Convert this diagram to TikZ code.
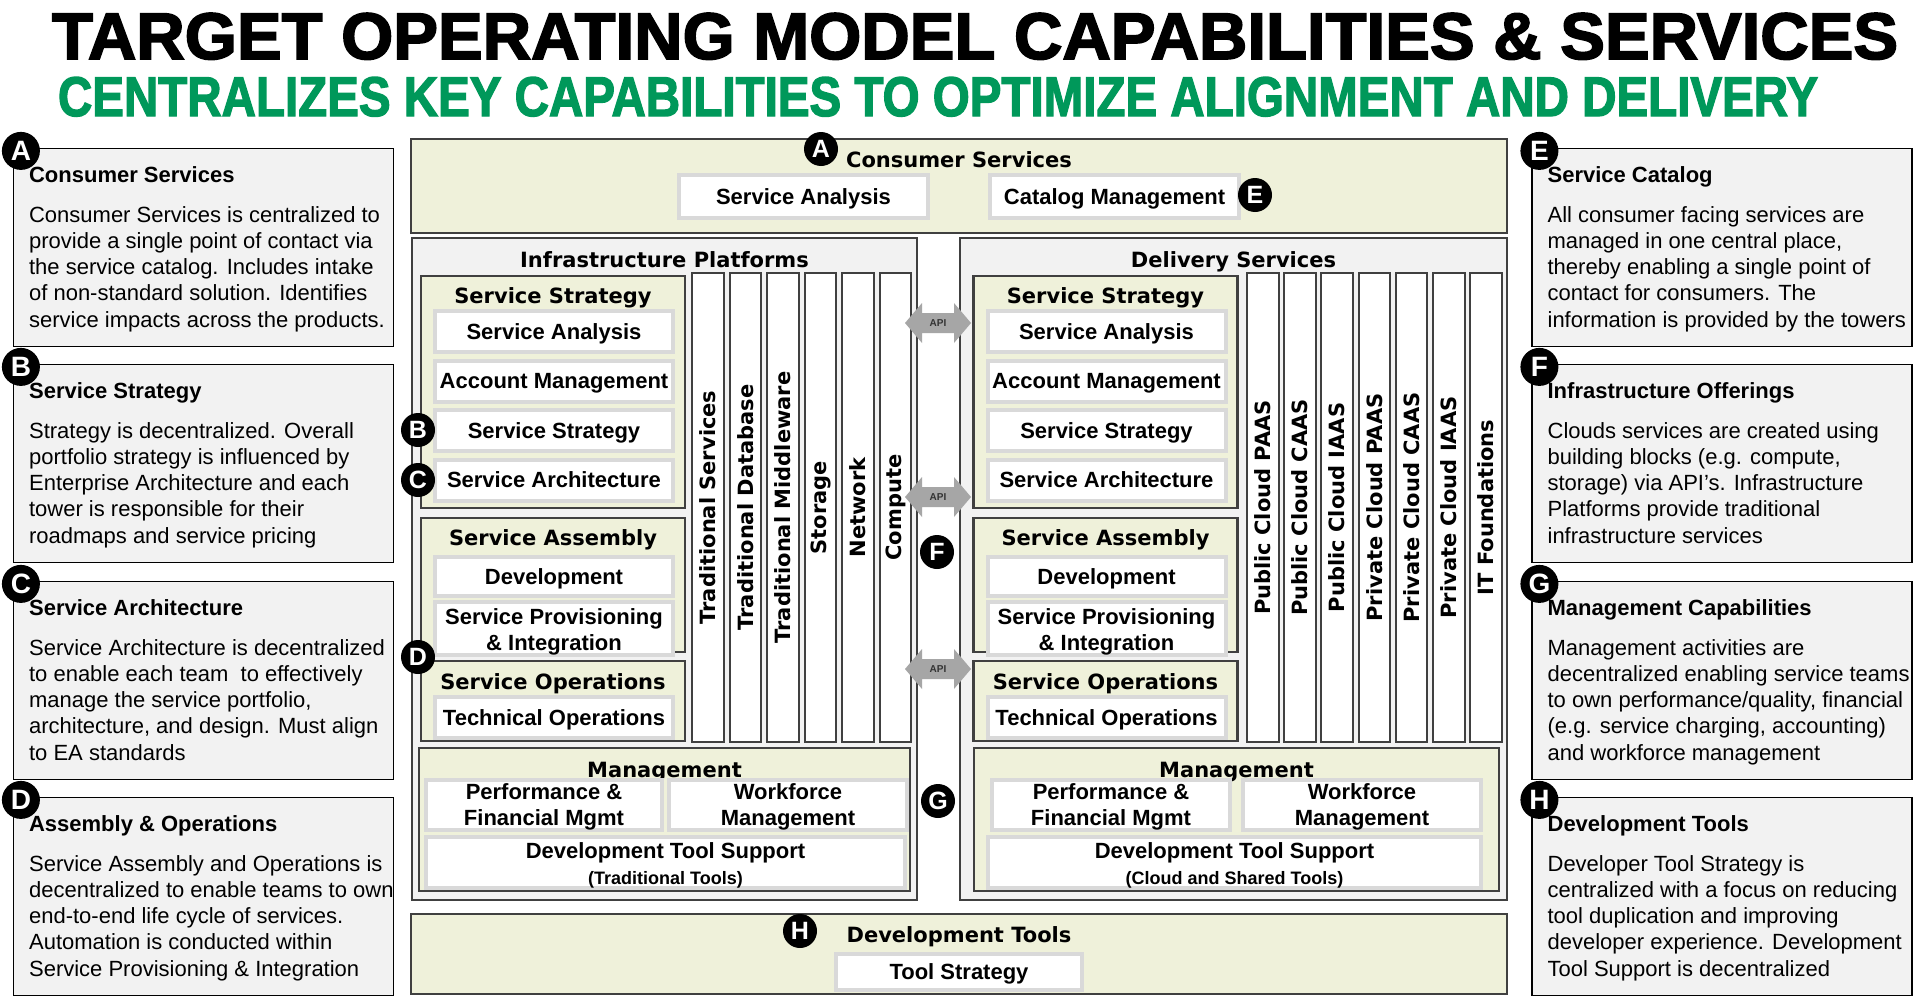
\documentclass[tikz,border=0pt]{standalone}
\usepackage{fontspec}
\usepackage{graphicx}
\setmainfont{Liberation Sans}
\newfontfamily\dejavu{DejaVu Sans}
\newfontfamily\heavyfont{Liberation Sans Bold}[FakeBold=2.5]
\definecolor{cream}{HTML}{EFF1DA}
\definecolor{panelgray}{HTML}{F2F2F2}
\definecolor{edge}{HTML}{404040}
\definecolor{itemedge}{HTML}{D9D9D9}
\definecolor{apigray}{HTML}{A6A6A6}
\definecolor{apitext}{HTML}{333333}
\definecolor{tomgreen}{HTML}{00985A}
\newcommand\hdfont{\fontsize{21}{25}\dejavu\bfseries}
\newcommand\itfont{\fontsize{22}{26}\selectfont\bfseries}
\newcommand\nhfont{\fontsize{22}{26}\selectfont\bfseries}
\newcommand\ntfont{\fontsize{22}{26.3}\selectfont}
\newcommand\bdfont{\fontsize{25}{25}\selectfont\bfseries}
\newcommand\apifont{\fontsize{10}{12}\selectfont\bfseries}
\newcommand\toppad[1]{\rule{0pt}{#1}}

\begin{document}
\begin{tikzpicture}[x=1pt,y=-1pt,
  panel/.style={draw=edge,line width=2.5pt,fill=panelgray,inner sep=0pt},
  zone/.style={panel,fill=cream},
  item/.style={draw=itemedge,line width=4pt,fill=white,inner sep=0pt,align=center,font=\itfont},
  oneline/.style={item,text height=15.5pt,text depth=0pt},
  tower/.style={draw=edge,line width=2pt,fill=white,rotate=90,minimum width=469pt,minimum height=31.5pt,inner sep=0pt,font=\hdfont},
  hd/.style={anchor=base,inner sep=0pt,font=\hdfont},
  badge/.style={circle,fill=black,text=white,minimum size=34pt,inner sep=0pt,font=\bdfont},
  sidebadge/.style={badge,minimum size=38pt,font=\fontsize{28}{28}\selectfont\bfseries},
  note/.style={draw=black,line width=1.2pt,fill=panelgray,minimum width=380pt,minimum height=198pt,inner sep=0pt},
  notehd/.style={anchor=base west,inner sep=0pt,font=\nhfont},
  notetx/.style={anchor=north west,inner sep=0pt,align=left,font=\ntfont},
  api/.style={fill=apigray}]
\useasboundingbox[fill=white] (0,0) rectangle (1914,1001);

% titles
\node[anchor=base,inner sep=0pt] (title) at (975,59) {\resizebox{1846pt}{46pt}{\heavyfont TARGET OPERATING MODEL CAPABILITIES \& SERVICES}};
\node[anchor=base,inner sep=0pt,text=tomgreen] (subtitle) at (938,116) {\resizebox{1760pt}{39pt}{\heavyfont CENTRALIZES KEY CAPABILITIES TO OPTIMIZE ALIGNMENT AND DELIVERY}};

% consumer services
\node[zone,minimum width=1096pt,minimum height=94pt] (cons) at (959,186) {};
\node[hd] (consHd) at (959,167) {Consumer Services};
\node[oneline,minimum width=249pt,minimum height=43pt] (consSA) at (803.5,196.5) {Service Analysis};
\node[oneline,minimum width=249pt,minimum height=43pt] (consCM) at (1114.5,196.5) {Catalog Management};

% the two towers
\node[panel,minimum width=505pt,minimum height=662pt] (infra) at (664.5,569) {};
\node[hd] (infraHd) at (664.5,267) {Infrastructure Platforms};
\node[panel,minimum width=547pt,minimum height=662pt] (deliv) at (1233.5,569) {};
\node[hd] (delivHd) at (1233.5,267) {Delivery Services};

% service strategy / assembly / operations
\foreach \side/\zx in {L/553,R/1105.5} {
  \node[zone,minimum width=264pt,minimum height=232pt] (strat\side) at (\zx,392) {};
  \node[hd] at (\zx,303) {Service Strategy};
  \foreach \txt [count=\i from 0] in {Service Analysis,Account Management,Service Strategy,Service Architecture}
    \node[oneline,minimum width=238pt,minimum height=41pt] (strat\side\i) at (\zx+1,331.5+49.5*\i) {\txt};
  \node[zone,minimum width=264pt,minimum height=134pt] (asm\side) at (\zx,585) {};
  \node[hd] at (\zx,545) {Service Assembly};
  \node[oneline,minimum width=238pt,minimum height=39pt] (asmDev\side) at (\zx+1,576.5) {Development};
  \node[item,minimum width=238pt,minimum height=41pt] (asmProv\side) at (\zx+1,628.5) {\toppad{22pt}Service Provisioning\\\& Integration};
  \node[zone,minimum width=264pt,minimum height=80pt] (ops\side) at (\zx,701) {};
  \node[hd] at (\zx,689) {Service Operations};
  \node[oneline,minimum width=238pt,minimum height=41pt] (opsTech\side) at (\zx+1,717.5) {Technical Operations};
}

% vertical offerings
\foreach \txt [count=\i from 0] in {Traditional Services,Traditional Database,Traditional Middleware,Storage,Network,Compute}
  \node[tower] (twrL\i) at (708+37.5*\i,507.5) {\txt};
\foreach \txt [count=\i from 0] in {Public Cloud PAAS,Public Cloud CAAS,Public Cloud IAAS,Private Cloud PAAS,Private Cloud CAAS,Private Cloud IAAS,IT Foundations}
  \node[tower] (twrR\i) at (1262.75+37.2*\i,507.5) {\txt};

% management
\node[zone,minimum width=491pt,minimum height=143pt] (mgmtL) at (664.5,819.5) {};
\node[hd] at (664.5,777) {Management};
\node[item,minimum width=236pt,minimum height=40pt] (perfL) at (544,805) {\toppad{20pt}Performance \&\\Financial Mgmt};
\node[item,minimum width=238pt,minimum height=40pt] (workL) at (788,805) {\toppad{20pt}Workforce\\Management};
\node[item,minimum width=479pt,minimum height=47pt] (toolL) at (665.5,862.5) {\toppad{22pt}Development Tool Support\\{\fontsize{18}{20}\selectfont(Traditional Tools)}};
\node[zone,minimum width=525pt,minimum height=143pt] (mgmtR) at (1236.5,819.5) {};
\node[hd] at (1236.5,777) {Management};
\node[item,minimum width=238pt,minimum height=40pt] (perfR) at (1111,805) {\toppad{20pt}Performance \&\\Financial Mgmt};
\node[item,minimum width=238pt,minimum height=40pt] (workR) at (1362,805) {\toppad{20pt}Workforce\\Management};
\node[item,minimum width=493pt,minimum height=47pt] (toolR) at (1234.5,862.5) {\toppad{22pt}Development Tool Support\\{\fontsize{18}{20}\selectfont(Cloud and Shared Tools)}};

% development tools
\node[zone,minimum width=1096pt,minimum height=80pt] (devt) at (959,954) {};
\node[hd] (devtHd) at (959,942) {Development Tools};
\node[oneline,minimum width=246pt,minimum height=36pt] (devtTS) at (959,972) {Tool Strategy};

% API links
\foreach \y [count=\k] in {323,497,669} {
  \fill[api] (905,\y) -- (922,\y-20) -- (922,\y-10) -- (954,\y-10) -- (954,\y-20) -- (971,\y)
    -- (954,\y+20) -- (954,\y+10) -- (922,\y+10) -- (922,\y+20) -- cycle;
  \node[font=\apifont,text=apitext,inner sep=0pt] (api\k) at (938,\y) {API};
}

% side notes
\foreach \ty/\l/\h/\b in {
  148/A/{Consumer Services}/{Consumer Services is centralized to\\provide a single point of contact via\\the service catalog. Includes intake\\of non-standard solution. Identifies\\service impacts across the products.},
  364/B/{Service Strategy}/{Strategy is decentralized. Overall\\portfolio strategy is influenced by\\Enterprise Architecture and each\\tower is responsible for their\\roadmaps and service pricing},
  581/C/{Service Architecture}/{Service Architecture is decentralized\\to enable each team\ \ to effectively\\manage the service portfolio,\\architecture, and design. Must align\\to EA standards},
  797/D/{Assembly \& Operations}/{Service Assembly and Operations is\\decentralized to enable teams to own\\end-to-end life cycle of services.\\Automation is conducted within\\Service Provisioning \& Integration}} {
  \node[note] (note\l) at (203.5,\ty+99.5) {};
  \node[notehd] (noteHd\l) at ([xshift=16pt,yshift=-35pt]note\l.north west) {\h};
  \node[notetx] (noteTx\l) at ([xshift=16pt,yshift=-55.5pt]note\l.north west) {\strut\b};
  \node[sidebadge] (noteBd\l) at ([xshift=8pt,yshift=-3pt]note\l.north west) {\l};
}
\foreach \ty/\l/\h/\b in {
  148/E/{Service Catalog}/{All consumer facing services are\\managed in one central place,\\thereby enabling a single point of\\contact for consumers. The\\information is provided by the towers},
  364/F/{Infrastructure Offerings}/{Clouds services are created using\\building blocks (e.g. compute,\\storage) via API’s. Infrastructure\\Platforms provide traditional\\infrastructure services},
  581/G/{Management Capabilities}/{Management activities are\\decentralized enabling service teams\\to own performance/quality, financial\\(e.g. service charging, accounting)\\and workforce management},
  797/H/{Development Tools}/{Developer Tool Strategy is\\centralized with a focus on reducing\\tool duplication and improving\\developer experience. Development\\Tool Support is decentralized}} {
  \node[note] (note\l) at (1722,\ty+99.5) {};
  \node[notehd] (noteHd\l) at ([xshift=16pt,yshift=-35pt]note\l.north west) {\h};
  \node[notetx] (noteTx\l) at ([xshift=16pt,yshift=-55.5pt]note\l.north west) {\strut\b};
  \node[sidebadge] (noteBd\l) at ([xshift=8pt,yshift=-3pt]note\l.north west) {\l};
}

% markers in the model
\node[badge] (bdA) at (821,149) {A};
\node[badge] (bdE) at (1255,195) {E};
\node[badge] (bdB) at (418,430) {B};
\node[badge] (bdC) at (418,480) {C};
\node[badge] (bdD) at (418,657) {D};
\node[badge] (bdF) at (937,552) {F};
\node[badge] (bdG) at (938,801) {G};
\node[badge] (bdH) at (800,931) {H};
\end{tikzpicture}
\end{document}
